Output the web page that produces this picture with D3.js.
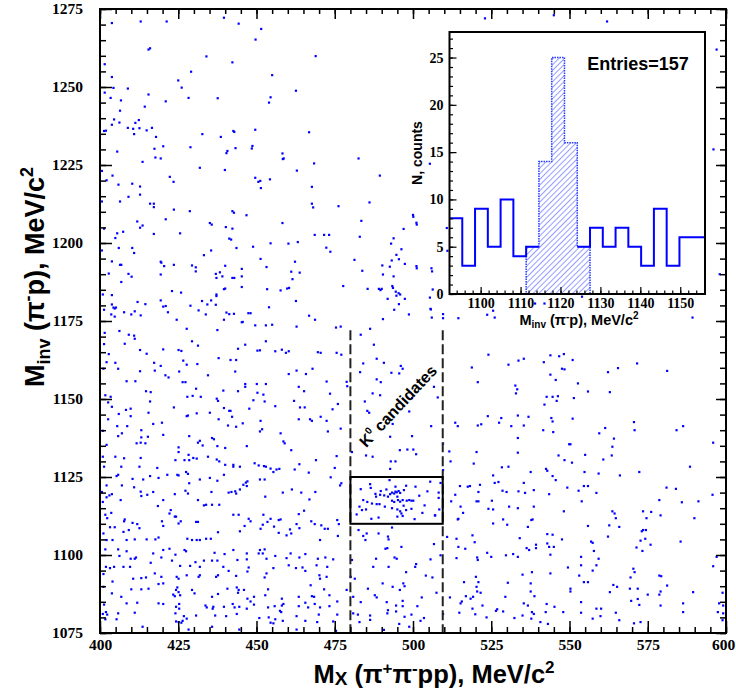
<!DOCTYPE html>
<html><head><meta charset="utf-8">
<script src="https://cdn.jsdelivr.net/npm/d3@7"></script>
<style>body{margin:0;background:#fff}svg{display:block}</style>
</head><body>
<svg id="c" width="736" height="690"></svg>
<script>
// ---------- DATA ----------
// scatter: [Mx (MeV/c^2), Minv (MeV/c^2)]
const ptsUpperLeft = [
[403.8,1270.5],[413.0,1271.0],[421.3,1271.0],[439.6,1272.2],[444.3,1270.3],[451.5,1268.6],[449.7,1265.2],[415.5,1262.0],[416.0,1262.4],
[434.0,1259.8],[468.9,1259.9],[442.3,1257.9],[401.5,1257.3],[429.1,1254.9],[403.8,1253.2],[455.0,1253.8],[425.0,1252.1],[426.1,1249.8],
[404.3,1249.7],[408.9,1249.5],[462.6,1248.8],[401.5,1248.2],[415.5,1247.6],[428.3,1246.5],[437.6,1246.4],[454.5,1246.7],[454.0,1245.0],
[403.4,1246.5],[406.7,1245.7],[421.0,1245.4],[414.3,1243.7],[406.4,1242.4],[404.5,1239.6],[406.2,1238.6],[403.8,1237.9],[412.4,1239.4],
[411.3,1238.5],[408.9,1236.9],[410.6,1236.6],[412.6,1236.8],[416.6,1236.9],[414.9,1236.1],[410.9,1234.9],[401.3,1235.9],[401.9,1236.0],
[417.9,1234.0],[432.7,1234.9],[438.6,1234.0],[442.6,1235.9],[442.9,1235.6],[449.6,1236.3],[466.8,1235.5],[420.2,1231.0],[417.4,1230.2],
[428.9,1230.7],[443.3,1230.4],[440.7,1229.5],[440.4,1228.8],[448.5,1230.3],[448.7,1231.1],[405.5,1229.3],[458.3,1228.7],[458.7,1227.1],
[458.4,1226.9],[417.7,1227.4],[419.4,1227.1],[413.6,1226.0],[468.4,1225.5],[482.6,1227.1],[400.6,1223.1],[404.0,1221.6],[431.9,1224.1],
[439.9,1223.4],[462.9,1223.2],[422.3,1221.2],[423.5,1219.6],[402.1,1220.1],[449.6,1220.9],[450.6,1219.6],[451.2,1219.9],[451.4,1217.6],
[454.3,1220.4],[489.4,1221.6],[410.3,1219.0],[405.9,1218.7],[412.8,1218.1],[412.8,1215.5],[467.7,1218.0],[409.1,1214.8],[400.6,1213.3],
[406.4,1213.3],[416.0,1212.6],[417.2,1212.6],[417.2,1211.5],[467.7,1212.6],[468.1,1211.4],[486.1,1213.0],[476.2,1211.8],[423.6,1210.7],
[428.7,1210.2],[442.3,1210.2],[442.8,1209.7],[446.8,1208.9],[421.0,1207.6],[483.5,1207.1],[500.0,1209.0],[501.1,1206.5],[411.9,1206.9],
[413.6,1205.6],[412.8,1204.9],[435.1,1206.4],[435.7,1205.9],[458.3,1206.4],[440.2,1205.1],[442.3,1204.6],[401.3,1204.6],[405.5,1203.1],
[407.4,1203.6],[404.9,1201.6],[417.2,1202.9],[425.6,1203.1],[468.6,1202.6],[471.6,1202.6],[473.2,1202.6],[483.0,1202.0],[497.0,1204.5],
[493.8,1201.5],[441.3,1201.4],[441.9,1201.1],[454.5,1199.9],[460.2,1199.8],[463.2,1200.3],[493.0,1199.8],[448.9,1198.8],[406.0,1198.4],
[410.3,1198.4],[410.9,1196.8],[443.6,1198.4],[435.5,1197.6],[472.3,1198.5],[473.6,1197.2],[496.3,1198.0],[494.7,1196.2],[400.6,1197.6],
[433.2,1196.1],[451.3,1194.9],[495.5,1194.8],[493.2,1194.4],[403.8,1194.1],[419.4,1194.0],[419.6,1193.7],[462.3,1194.0],[481.3,1194.6],
[420.5,1192.6],[423.6,1193.0],[429.4,1192.8],[430.6,1192.2],[430.6,1190.9],[440.0,1192.7],[453.2,1192.3],[406.4,1193.0],[406.8,1193.0],
[490.2,1192.8],[492.6,1192.4],[497.4,1193.3],[501.1,1192.6],[483.8,1191.1],[461.1,1190.8],[463.8,1190.5],[409.1,1190.1],[410.1,1189.2],
[402.8,1190.2],[419.4,1189.9],[437.0,1190.1],[438.3,1190.6],[437.2,1188.8],[439.1,1189.3],[442.3,1188.8],[442.9,1188.8],[445.3,1189.3],
[445.3,1191.7],[490.4,1189.9],[493.8,1189.3],[461.5,1188.4],[406.8,1187.5],[477.7,1186.2],[493.4,1186.2],[493.6,1185.6],[439.6,1185.2],
[440.0,1185.4],[445.3,1185.9],[453.4,1185.2],[457.7,1184.8],[459.8,1185.4],[460.4,1185.6],[485.5,1185.3],[489.1,1185.3],[489.6,1184.9],
[490.0,1185.3],[423.0,1184.6],[425.9,1184.1],[437.2,1183.5],[437.2,1183.0],[400.9,1183.5],[403.8,1183.3],[494.5,1184.4],[495.4,1183.9],
[495.9,1183.5],[494.7,1183.1],[491.9,1182.1],[497.4,1182.1],[419.4,1181.6],[432.6,1181.4],[435.5,1181.6],[462.6,1181.4],[412.0,1181.1],
[414.5,1180.4],[420.2,1179.6],[421.0,1179.8],[428.9,1179.9],[434.3,1180.3],[437.0,1180.2],[454.0,1179.4],[495.5,1180.4],[403.8,1180.3],
[404.3,1179.3],[404.7,1179.0],[405.1,1179.3],[401.3,1178.6],[494.0,1178.6],[411.1,1178.1],[407.7,1177.8],[421.7,1177.8],[431.5,1178.4],
[440.4,1177.7],[441.3,1177.2],[442.8,1177.3],[447.4,1177.5],[448.1,1177.5],[403.6,1177.1],[404.7,1176.4],[410.0,1177.1],[413.0,1176.8],
[433.8,1177.1],[466.8,1176.7],[498.7,1177.1],[424.5,1175.4],[439.6,1175.4],[445.3,1174.6],[468.7,1175.4],[490.4,1175.6]
];
const ptsLowerLeft = [
[445.6,1174.7],[449.6,1173.6],[453.0,1173.6],[455.0,1173.8],[462.8,1173.2],[475.4,1172.9],[476.9,1173.2],[427.7,1172.5],[437.5,1172.1],
[406.2,1171.8],[401.5,1171.2],[409.2,1170.6],[410.9,1170.3],[411.1,1169.3],[429.4,1168.5],[431.3,1167.1],[407.9,1167.7],[446.4,1167.4],
[453.0,1168.5],[401.3,1167.6],[444.1,1166.1],[420.2,1165.9],[412.8,1165.7],[425.1,1165.7],[426.0,1165.4],[450.3,1165.5],[451.1,1165.6],
[456.0,1165.3],[458.1,1165.8],[459.4,1164.8],[460.3,1165.3],[469.6,1165.0],[470.5,1164.8],[475.6,1164.8],[477.1,1164.2],[414.9,1164.5],
[402.8,1164.4],[437.9,1163.1],[441.7,1162.5],[443.5,1162.5],[426.6,1162.3],[402.1,1161.8],[404.9,1161.6],[417.3,1161.6],[431.1,1161.2],
[427.7,1161.0],[419.4,1160.6],[405.8,1159.7],[401.1,1159.7],[412.8,1158.9],[417.5,1159.1],[425.3,1158.8],[443.2,1158.8],[462.8,1159.1],
[465.8,1158.0],[467.9,1159.7],[460.3,1158.0],[434.5,1157.6],[421.9,1156.9],[420.9,1157.6],[408.5,1155.7],[411.3,1155.7],[426.4,1155.4],
[427.3,1155.4],[446.4,1154.8],[446.4,1153.9],[450.1,1154.8],[453.0,1154.8],[472.4,1155.6],[478.8,1155.5],[479.0,1154.1],[463.5,1153.9],
[444.1,1152.5],[450.3,1152.0],[452.2,1151.4],[465.2,1152.5],[473.5,1151.7],[414.7,1152.5],[416.2,1152.2],[430.7,1153.3],[427.9,1150.7],
[429.6,1151.0],[432.2,1150.7],[437.3,1150.1],[437.7,1149.4],[439.4,1152.7],[449.0,1149.6],[452.6,1149.2],[416.0,1149.2],[401.7,1151.2],
[403.4,1150.7],[403.8,1147.5],[402.6,1148.9],[423.6,1147.3],[439.6,1147.1],[441.3,1146.2],[441.7,1146.2],[447.7,1146.9],[456.0,1147.7],
[462.0,1149.4],[463.9,1147.3],[465.4,1147.3],[474.3,1146.7],[476.0,1148.4],[408.3,1146.5],[409.8,1146.9],[406.0,1145.2],[415.5,1145.6],
[430.9,1145.4],[428.1,1144.7],[427.7,1144.5],[435.1,1145.6],[437.9,1143.5],[442.2,1144.3],[445.6,1142.2],[443.5,1141.1],[440.9,1141.5],
[451.3,1143.0],[463.5,1143.5],[467.1,1143.5],[467.7,1143.0],[472.4,1143.0],[470.5,1144.3],[409.8,1144.5],[402.6,1143.5],[419.8,1142.4],
[417.0,1142.0],[408.7,1141.3],[405.5,1141.3],[400.9,1139.8],[413.2,1140.0],[451.8,1140.3],[451.1,1139.6],[457.7,1139.0],[472.8,1139.6],
[476.9,1140.5],[405.8,1138.1],[407.0,1139.0],[413.2,1137.7],[415.3,1137.9],[420.2,1138.5],[428.5,1138.1],[435.8,1137.5],[436.4,1137.1],
[431.9,1136.6],[431.3,1136.0],[432.8,1135.1],[437.5,1134.9],[440.0,1134.3],[446.9,1134.9],[458.6,1136.4],[459.0,1135.8],[461.1,1133.6],
[411.7,1135.8],[413.0,1136.0],[414.5,1135.8],[402.1,1135.3],[425.1,1134.5],[425.1,1133.0],[428.3,1132.1],[424.1,1130.4],[427.0,1130.4],
[428.5,1130.4],[429.8,1131.1],[430.9,1130.9],[434.5,1131.5],[437.3,1130.6],[438.1,1130.0],[440.0,1128.9],[442.6,1128.9],[442.6,1128.3],
[444.7,1128.3],[400.9,1131.5],[404.9,1131.5],[407.7,1131.0],[413.0,1131.1],[449.4,1129.4],[450.7,1128.7],[452.4,1128.5],[453.0,1128.3],
[454.5,1127.7],[455.4,1126.6],[456.4,1127.4],[457.3,1127.6],[462.2,1127.4],[463.7,1129.1],[466.7,1126.4],[469.0,1130.4],[475.0,1127.9],
[475.6,1131.7],[401.3,1128.3],[406.8,1128.3],[412.6,1128.3],[418.3,1127.9],[421.5,1125.7],[424.7,1125.7],[425.1,1125.5],[427.5,1126.6],
[428.1,1126.0],[405.8,1125.7],[405.3,1125.3],[410.4,1124.4],[413.8,1124.2],[416.0,1125.3],[418.7,1124.7],[431.9,1124.2],[435.1,1124.7],
[437.5,1123.8],[439.6,1125.7],[445.8,1122.5],[446.6,1123.2],[447.1,1123.6],[451.1,1124.2],[452.6,1124.2],[473.7,1124.9],[477.1,1123.0],
[402.1,1122.3],[407.0,1122.3],[410.9,1121.7],[403.8,1119.5],[403.0,1119.1],[402.1,1118.5],[400.6,1120.2],[413.0,1120.3],[413.2,1118.9],
[415.1,1119.3],[417.0,1120.2],[423.9,1119.5],[427.3,1120.6],[428.5,1123.0],[428.1,1119.7],[435.6,1120.2],[441.1,1120.0],[442.0,1120.2],
[443.2,1120.4],[443.5,1119.7],[444.7,1121.0],[446.9,1122.1],[452.8,1118.7],[458.4,1120.0],[461.3,1121.0],[464.3,1120.0],[468.8,1120.2],
[466.9,1117.8],[476.7,1122.3],[406.6,1117.6],[400.9,1117.0],[420.2,1117.6],[431.3,1117.6],[433.9,1116.1],[433.2,1115.9],[435.8,1116.1],
[438.1,1116.1],[418.5,1115.7],[422.2,1113.3],[422.6,1114.4],[423.9,1112.3],[424.3,1112.3],[403.6,1113.5],[402.3,1111.8],[401.7,1112.9],
[407.7,1110.8],[407.9,1111.4],[410.4,1110.3],[411.9,1109.9],[412.6,1108.6],[409.2,1108.0],[407.5,1107.4],[403.2,1108.9],[404.7,1108.9],
[401.1,1106.9],[442.6,1112.9],[444.3,1112.9],[447.5,1111.6],[446.2,1109.3],[452.2,1112.9],[454.5,1111.6],[457.1,1111.2],[457.7,1111.4],
[448.1,1110.8],[453.5,1110.6],[463.5,1113.1],[465.2,1114.2],[467.5,1110.8],[468.6,1109.9],[470.7,1109.5],[471.8,1108.4],[472.8,1108.4],
[475.8,1111.2],[476.3,1109.9],[476.0,1106.1],[470.3,1104.8],[463.7,1108.6],[462.8,1109.9],[460.7,1108.2],[459.6,1106.3],[461.1,1106.9],
[455.6,1109.1],[457.1,1107.1],[452.0,1109.7],[451.3,1108.4],[444.7,1107.6],[437.7,1107.3],[431.3,1110.6],[430.7,1110.6],[419.8,1110.8],
[420.2,1109.3],[425.1,1110.1],[425.8,1110.8],[427.9,1105.2],[429.4,1104.8],[430.9,1104.8],[431.9,1104.8],[433.9,1105.2],[435.4,1105.2],
[418.7,1105.6],[417.7,1105.0],[414.9,1105.0],[411.1,1105.0],[408.5,1104.8],[404.0,1104.8],[402.1,1104.8],[401.7,1101.8],[405.8,1101.8],
[408.5,1101.2],[406.2,1099.7],[411.5,1099.2],[411.1,1098.8],[409.8,1098.8],[404.5,1096.2],[407.5,1096.2],[409.6,1096.2],[403.2,1095.8],
[401.9,1096.2],[401.1,1093.9],[420.2,1101.6],[422.2,1102.0],[427.0,1101.6],[427.5,1101.2],[424.1,1100.1],[419.6,1099.2],[417.0,1100.5],
[416.2,1097.5],[425.6,1096.5],[423.0,1098.2],[430.5,1097.7],[428.8,1096.5],[431.9,1096.2],[433.2,1098.2],[435.8,1098.2],[436.6,1100.7],
[439.8,1100.3],[442.6,1101.6],[446.9,1100.5],[446.9,1098.6],[443.9,1098.4],[437.5,1098.2],[439.4,1096.2],[451.1,1101.6],[452.6,1101.8],
[450.7,1100.5],[452.0,1100.5],[453.2,1098.8],[456.0,1099.7],[459.6,1099.0],[460.9,1100.5],[463.7,1099.2],[465.6,1100.3],[469.6,1098.8],
[472.0,1099.2],[474.5,1098.6],[460.3,1096.7],[455.4,1095.8],[462.6,1095.8],[464.7,1096.0],[465.6,1094.9],[469.2,1096.7],[472.4,1093.0],
[470.1,1093.5],[470.3,1092.4],[472.6,1096.2],[447.5,1096.0],[447.1,1094.7],[452.6,1092.8],[453.2,1094.1],[443.5,1093.3],[441.1,1094.9],
[437.7,1093.5],[437.1,1093.0],[431.5,1093.0],[431.9,1093.5],[427.7,1093.5],[424.5,1093.0],[425.1,1092.4],[417.5,1094.1],[419.6,1093.0],
[420.2,1090.9],[418.7,1090.7],[413.2,1092.6],[414.7,1092.8],[410.6,1092.4],[404.0,1091.5],[401.1,1089.8],[410.0,1089.0],[413.2,1089.0],
[415.5,1089.2],[406.8,1086.6],[403.8,1087.7],[424.7,1089.6],[424.3,1088.8],[425.1,1088.1],[423.4,1087.3],[425.6,1087.1],[423.9,1086.8],
[430.2,1087.7],[429.4,1088.8],[440.7,1089.2],[443.7,1089.6],[444.3,1088.8],[444.1,1087.9],[446.0,1088.8],[437.7,1087.5],[435.8,1086.6],
[447.1,1086.0],[448.1,1085.1],[449.2,1086.6],[452.8,1087.1],[453.7,1089.0],[458.1,1086.0],[458.6,1084.3],[463.5,1086.6],[467.3,1090.3],
[467.7,1086.8],[468.4,1086.6],[471.6,1089.0],[473.3,1087.1],[475.8,1085.1],[478.8,1088.8],[401.3,1084.1],[408.5,1084.5],[411.9,1084.7],
[418.7,1084.5],[420.2,1084.3],[424.3,1083.4],[425.3,1084.3],[425.3,1082.8],[433.7,1083.8],[434.1,1083.2],[436.2,1083.4],[436.0,1082.8],
[439.6,1083.4],[442.4,1084.3],[443.0,1083.2],[444.5,1083.4],[446.9,1082.8],[449.2,1084.1],[453.7,1083.2],[455.8,1083.6],[458.1,1083.8],
[457.5,1082.1],[457.9,1081.7],[463.5,1083.6],[465.6,1084.7],[466.5,1083.2],[468.6,1084.3],[470.3,1083.2],[473.3,1083.6],[411.1,1081.5],
[401.9,1081.7],[400.9,1081.1],[402.3,1080.9],[405.8,1081.3],[424.1,1081.3],[426.8,1080.4],[427.7,1079.6],[430.7,1080.6],[436.8,1080.6],
[440.3,1080.4],[443.7,1081.1],[450.9,1079.8],[453.9,1080.0],[456.0,1079.4],[458.4,1078.9],[462.8,1080.4],[465.6,1078.9],[469.9,1080.9],
[475.8,1080.9],[401.7,1079.4],[405.3,1079.4],[424.3,1078.7],[425.1,1078.5],[426.0,1078.3],[426.4,1078.9],[454.5,1078.3],[455.4,1078.1],
[469.4,1078.5],[474.5,1078.7],[413.6,1077.0],[428.3,1076.1],[435.8,1077.0],[444.5,1076.1],[462.8,1076.1],[475.4,1075.7]
];
const ptsColumn = [
[483.3,1170.6],[486.3,1172.5],[487.5,1167.4],[488.4,1162.9],[490.7,1161.6],[484.1,1161.4],[496.1,1160.6],[496.7,1159.7],[493.1,1158.4],
[483.1,1158.6],[488.4,1156.3],[489.7,1155.4],[495.6,1158.2],[487.1,1151.8],[489.5,1151.2],[484.6,1149.2],[485.4,1146.2],[486.0,1145.6],
[499.7,1150.3],[498.8,1146.0],[492.4,1143.5],[493.5,1142.0],[499.7,1138.1],[492.7,1137.9],[480.5,1133.0],[485.0,1131.9],[487.1,1131.5],
[495.8,1133.6],[498.2,1133.8],[500.1,1133.8],[501.0,1132.3],[492.9,1130.0],[494.4,1130.0],[492.7,1127.6],
[483.3,1121.1],[486.3,1122.7],[488.0,1119.6],[489.7,1120.5],[489.5,1119.3],[490.8,1119.1],[492.0,1118.7],[493.3,1120.0],[494.0,1119.7],
[494.4,1121.9],[494.4,1120.3],[494.8,1120.1],[495.4,1120.5],[495.9,1119.9],[495.0,1118.7],[497.1,1120.8],[497.8,1122.2],[493.3,1117.4],
[494.0,1117.0],[495.2,1117.6],[495.9,1117.1],[496.7,1117.6],[498.0,1117.4],[498.8,1117.6],[499.5,1117.4],[500.1,1117.4],[500.8,1121.9],
[484.1,1117.6],[485.4,1117.0],[486.9,1116.5],[488.4,1116.3],[489.3,1116.3],[482.9,1115.5],[483.7,1114.4],[485.0,1114.6],[491.0,1115.5],
[493.3,1115.0],[495.0,1114.6],[495.9,1114.0],[496.3,1113.3],[497.8,1114.4],[499.5,1114.8],[495.0,1112.3],[496.7,1112.5],[486.7,1111.6],
[503.7,1115.9],[504.6,1120.4],[507.0,1112.7],[508.2,1120.0],[508.2,1118.3],[508.4,1114.6],[492.7,1119.5],[488.2,1118.7],
[486.5,1121.5],[491.5,1121.0],[497.0,1115.8],[502.0,1119.0],[505.5,1123.5],[482.0,1113.0],[489.0,1112.0],[500.5,1111.5],[503.0,1113.5],[492.5,1124.0],
[482.6,1108.0],[484.1,1106.1],[485.2,1106.9],[484.8,1104.8],[489.0,1106.9],[492.0,1105.9],[492.2,1105.0],[493.3,1108.8],[496.3,1102.6],
[491.2,1102.0],[491.8,1102.2],[494.1,1099.2],[494.8,1098.8],[488.2,1098.8],[480.5,1098.4],[487.3,1096.2],[492.2,1096.2],[501.0,1097.1],
[497.8,1094.5],[500.7,1096.2],[480.1,1093.0],[481.4,1092.4],[490.3,1090.9],[496.9,1090.9],[497.3,1090.0],[493.5,1089.8],[495.8,1088.8],
[485.6,1089.2],[487.8,1087.1],[488.4,1086.4],[480.9,1086.6],[483.3,1084.9],[491.6,1084.9],[496.7,1085.3],[494.6,1083.8],[496.7,1083.6],
[501.4,1083.6],[492.0,1082.3],[494.6,1081.9],[480.9,1081.3],[482.4,1080.9],[486.3,1080.6],[491.8,1081.3],[497.3,1080.2],[499.5,1080.9],
[486.3,1079.2],[490.7,1076.0],[495.6,1077.9],[498.8,1077.0],[482.9,1078.5],
[506.7,1153.9],[507.9,1150.5],[505.8,1141.3],[509.6,1135.7],[508.8,1123.1],[509.6,1127.2],[507.1,1112.7],[506.7,1103.5],[508.8,1099.9],
[505.6,1098.6],[504.1,1093.4],[506.2,1092.8],[507.5,1087.9],[502.8,1086.4],[509.6,1081.1],[503.5,1079.8],[502.4,1078.9],
[505.6,1178.9],[506.0,1176.1],[509.6,1177.2],[509.6,1175.9],
[505.4,1225.4],[500.1,1208.4],[501.2,1205.9],[510.8,1204.8],[511.0,1197.5],[501.2,1191.9],[505.9,1191.9],[506.1,1190.9],[506.3,1185.1],
[505.4,1182.5],[505.7,1178.7]
];
const ptsRight = [
[514.5,1175.9],[523.7,1177.0],[525.6,1178.3],[526.1,1176.1],[589.3,1176.1],[539.0,1180.6],[542.0,1180.6],[554.0,1182.8],
[524.1,1164.2],[518.8,1160.1],[520.7,1155.4],[530.5,1161.0],[533.7,1162.3],[535.4,1162.9],[541.8,1161.8],[543.9,1164.0],[546.7,1163.7],
[548.2,1164.4],[551.0,1162.5],[547.6,1159.7],[548.4,1159.5],[543.9,1157.8],[545.6,1156.1],[552.7,1155.0],[532.7,1154.3],[533.3,1153.1],
[532.9,1151.8],[555.9,1152.4],[562.3,1158.6],[565.5,1159.9],[571.6,1161.4],[581.2,1159.0],[562.9,1152.2],[542.7,1150.7],[544.6,1150.7],
[546.3,1150.9],[545.9,1149.4],[542.0,1148.2],[551.4,1150.3],[536.9,1144.3],[533.5,1144.7],[523.9,1144.5],[520.7,1141.5],[521.8,1141.9],
[527.5,1142.4],[528.2,1143.9],[531.4,1141.3],[535.4,1141.5],[513.5,1142.4],[514.3,1141.3],[544.2,1143.9],[544.6,1142.8],[544.8,1139.4],
[541.6,1140.0],[551.0,1143.7],[561.4,1140.7],[559.5,1139.0],[564.2,1137.3],[563.7,1134.7],[563.5,1131.9],[560.8,1130.6],[570.6,1142.6],
[570.8,1140.0],[584.2,1140.0],[586.3,1141.3],[533.5,1137.5],[533.5,1132.8],[520.3,1133.0],[511.6,1133.2],[512.0,1130.0],[519.4,1129.3],[528.4,1128.1],
[530.5,1128.3],[525.6,1125.5],[546.5,1131.9],[548.4,1130.4],[549.9,1135.5],[550.3,1135.5],[550.8,1129.6],[555.0,1132.1],[542.5,1127.6],
[542.9,1127.0],[537.6,1126.6],[544.6,1125.3],[545.6,1124.0],[554.8,1126.6],[559.3,1126.1],[566.1,1125.5],[572.3,1126.6],[588.5,1128.3],
[595.9,1136.0],[518.2,1122.1],[517.5,1121.9],[515.0,1122.1],[513.5,1119.3],[512.2,1117.2],[515.2,1115.5],[514.5,1111.6],[521.4,1122.5],
[520.9,1120.2],[526.1,1123.1],[527.3,1123.4],[528.6,1120.6],[529.9,1120.2],[533.7,1120.4],[535.4,1123.1],[535.8,1119.9],[538.6,1120.8],
[543.5,1119.5],[549.3,1121.6],[552.9,1120.6],[554.6,1122.1],[555.9,1122.1],[558.6,1119.9],[553.9,1117.2],[548.2,1114.0],[538.6,1115.5],
[537.8,1111.2],[538.2,1111.4],[536.7,1109.0],[530.7,1115.5],[533.5,1115.0],[528.8,1111.4],[530.1,1109.7],[524.1,1114.8],[525.6,1114.6],
[520.9,1117.2],[520.3,1117.2],[525.2,1117.4],[516.0,1113.5],[514.3,1111.4],[525.6,1110.1],[555.9,1109.3],[562.7,1109.5],
[563.7,1114.0],[564.4,1113.3],[564.8,1111.8],[565.9,1109.0],[573.5,1114.0],[576.1,1113.8],[574.6,1111.8],[578.7,1117.6],[581.0,1121.6],
[584.0,1121.2],[585.9,1116.9],[591.2,1117.2],[589.9,1111.8],[595.7,1119.3],[573.5,1108.0],[574.4,1108.0],[573.1,1107.6],[510.9,1105.8],
[513.9,1105.2],[519.0,1106.3],[519.7,1104.1],[514.5,1102.6],[516.7,1102.0],[520.5,1099.2],[520.7,1098.4],[523.7,1100.7],[525.0,1099.4],
[529.7,1099.9],[532.0,1100.3],[533.5,1099.4],[536.3,1102.2],[537.1,1101.6],[539.3,1102.2],[539.3,1103.3],[542.9,1106.7],[544.6,1106.5],
[542.9,1103.7],[543.5,1102.6],[545.0,1102.6],[547.6,1105.0],[534.1,1105.4],[543.9,1100.1],[553.7,1099.4],[557.4,1103.9],[557.8,1101.3],
[559.3,1098.8],[558.6,1096.7],[557.4,1095.0],[553.7,1096.7],[549.5,1096.0],[543.9,1094.1],[538.0,1094.5],[537.6,1090.9],[535.0,1093.7],
[530.3,1091.1],[529.5,1086.6],[520.1,1093.0],[520.9,1091.3],[520.3,1089.8],[520.5,1088.3],[521.6,1087.9],[516.3,1091.3],[513.9,1099.0],
[519.2,1086.6],[518.4,1086.0],[516.9,1086.8],[515.6,1085.1],[515.2,1084.5],[511.8,1086.4],[519.0,1082.8],[522.2,1083.8],[526.9,1082.6],
[528.8,1081.9],[514.8,1081.5],[519.9,1081.0],[523.5,1080.0],[526.5,1082.1],[532.4,1079.8],[535.4,1084.5],[536.7,1083.8],[537.6,1088.3],
[538.8,1086.8],[538.0,1081.7],[538.6,1081.1],[535.0,1080.6],[537.8,1079.6],[540.7,1078.5],[542.7,1084.3],[545.2,1083.4],[542.4,1081.7],
[543.1,1077.9],[548.0,1081.7],[550.3,1089.2],[550.3,1088.3],[553.1,1093.4],[554.6,1091.3],[555.9,1091.3],[553.7,1084.9],[553.7,1081.5],
[557.4,1079.6],[558.6,1082.8],[560.1,1082.8],[559.9,1080.4],[564.8,1081.5],[565.9,1079.1],[562.9,1088.1],[564.0,1090.4],[565.2,1089.8],
[569.3,1089.2],[569.7,1085.3],[571.8,1089.2],[571.8,1085.9],[572.3,1084.0],[575.0,1087.3],[570.4,1095.6],[570.8,1094.5],[572.7,1078.5],
[570.6,1078.1],[578.7,1093.4],[579.3,1093.2],[581.2,1090.2],[579.1,1088.3],[578.7,1087.3],[579.1,1083.8],[589.5,1088.1],[585.5,1104.3],
[579.1,1112.7],[595.9,1096.4],[573.3,1101.3],[574.2,1105.2],[575.9,1103.3],[571.4,1102.4],[572.7,1104.6],[562.3,1105.9],[556.9,1104.3],
[586.3,1084.5],[586.3,1081.7],[598.9,1087.9],[597.8,1084.5],[599.1,1083.8],[599.1,1081.3],[597.4,1081.7],[598.9,1079.1],[569.5,1092.8],
[597.0,1099.4],[523.0,1272.0],[545.0,1273.0],[562.0,1271.0],[597.0,1262.0],[596.0,1230.0],[598.0,1190.0]
];

// axes
const xMajor = [400,425,450,475,500,525,550,575,600];
const yMajor = [1075,1100,1125,1150,1175,1200,1225,1250,1275];

// inset histogram: M_inv of K0 candidates, 3.2 MeV bins from 1092.2
const histStart = 1092.2, histBinWidth = 3.2;
const histCounts = [8,3,9,5,10,4,5,14,25,16,5,7,5,7,5,3,9,3,6,6];
const hatchedBins = [6,7,8,9,10];
const histEntries = 157;
const insetXTicks = [1100,1110,1120,1130,1140,1150];
const insetYTicks = [0,5,10,15,20,25];

// cuts
const kCut = {xMin:480, xMax:509.5, yTop:1172, boxY0:1110, boxY1:1125};

// ---------- DRAW ----------
const svg = d3.select("#c");
const SANS = "'Liberation Sans', Arial, sans-serif";
const SERIF = "'Liberation Serif', 'Times New Roman', serif";
const L=100,R=726,T=9,B=633;
const x = d3.scaleLinear().domain([400,600]).range([L,R]);
const y = d3.scaleLinear().domain([1075,1275]).range([B,T]);

svg.append("rect").attr("width",736).attr("height",690).attr("fill","#fff");

const allPts = ptsUpperLeft.concat(ptsLowerLeft, ptsColumn, ptsRight);
svg.append("g").selectAll("rect").data(allPts).join("rect")
  .attr("x",d=>x(d[0])-1.1).attr("y",d=>y(d[1])-1.1)
  .attr("width",2.2).attr("height",2.2).attr("fill","#0000ff");

// cut lines
const cutG = svg.append("g");
[kCut.xMin,kCut.xMax].forEach(v=>{
  cutG.append("line").attr("x1",x(v)).attr("x2",x(v)).attr("y1",y(kCut.yTop)).attr("y2",B)
    .attr("stroke","#222").attr("stroke-width",2).attr("stroke-dasharray","10,4");
});
cutG.append("rect").attr("x",x(kCut.xMin)).attr("y",y(kCut.boxY1))
  .attr("width",x(kCut.xMax)-x(kCut.xMin)).attr("height",y(kCut.boxY0)-y(kCut.boxY1))
  .attr("fill","none").attr("stroke","#000").attr("stroke-width",2);
const kt = cutG.append("text")
  .attr("transform",`translate(398,406) rotate(-47)`)
  .attr("text-anchor","middle").attr("dy","0.35em")
  .style("font-family",SANS).style("font-weight","bold").style("font-size","16px").attr("fill","#000");
kt.append("tspan").text("K");
kt.append("tspan").style("font-size","10px").attr("dy",-7).text("0");
kt.append("tspan").attr("dy",7).text(" candidates");

// axes (ticks inside)
function styleAxis(g){
  g.select(".domain").remove();
  g.selectAll(".tick line").attr("stroke","#000").attr("stroke-width",1.5);
  g.selectAll("text").style("font-family",SERIF).style("font-weight","bold").style("font-size","15.5px").attr("fill","#000");
}
const xMinor = d3.range(400,601,5), yMinor = d3.range(1075,1276,5);
svg.append("g").attr("transform",`translate(0,${B})`).call(d3.axisBottom(x).tickValues(xMinor).tickFormat("").tickSize(-6)).call(styleAxis);
const xAxG = svg.append("g").attr("transform",`translate(0,${B})`).call(d3.axisBottom(x).tickValues(xMajor).tickFormat(d3.format("d")).tickSize(-12).tickPadding(6)).call(styleAxis);
xAxG.selectAll(".tick text").filter(d=>d===600).attr("dx",-3);
svg.append("g").attr("transform",`translate(0,${T})`).call(d3.axisTop(x).tickValues(xMinor).tickFormat("").tickSize(-5)).call(styleAxis);
svg.append("g").attr("transform",`translate(0,${T})`).call(d3.axisTop(x).tickValues(xMajor).tickFormat("").tickSize(-10)).call(styleAxis);
svg.append("g").attr("transform",`translate(${L},0)`).call(d3.axisLeft(y).tickValues(yMinor).tickFormat("").tickSize(-6)).call(styleAxis);
svg.append("g").attr("transform",`translate(${L},0)`).call(d3.axisLeft(y).tickValues(yMajor).tickFormat(d3.format("d")).tickSize(-12).tickPadding(17)).call(styleAxis);
svg.append("g").attr("transform",`translate(${R},0)`).call(d3.axisRight(y).tickValues(yMinor).tickFormat("").tickSize(-6)).call(styleAxis);
svg.append("g").attr("transform",`translate(${R},0)`).call(d3.axisRight(y).tickValues(yMajor).tickFormat("").tickSize(-10)).call(styleAxis);
svg.append("rect").attr("x",L).attr("y",T).attr("width",R-L).attr("height",B-T)
  .attr("fill","none").attr("stroke","#000").attr("stroke-width",2);

// axis titles
const xt = svg.append("text").attr("x",434).attr("y",683).attr("text-anchor","middle")
  .style("font-family",SANS).style("font-weight","bold").style("font-size","25.5px").attr("fill","#000");
xt.append("tspan").text("M");
xt.append("tspan").style("font-size","19px").attr("dy",2).text("X");
xt.append("tspan").attr("dy",-2).text(" (π");
xt.append("tspan").style("font-size","17px").attr("dy",-9).text("+");
xt.append("tspan").attr("dy",9).text("π");
xt.append("tspan").style("font-size","17px").attr("dy",-9).text("-");
xt.append("tspan").attr("dy",9).text("pp), MeV/c");
xt.append("tspan").style("font-size","17px").attr("dy",-10).text("2");

const yt = svg.append("text").attr("transform","translate(44,277) rotate(-90)").attr("text-anchor","middle")
  .style("font-family",SANS).style("font-weight","bold").style("font-size","27px").attr("fill","#000");
yt.append("tspan").text("M");
yt.append("tspan").style("font-size","18px").attr("dy",6).text("inv");
yt.append("tspan").attr("dy",-6).text(" (π");
yt.append("tspan").style("font-size","18px").attr("dy",-10).text("-");
yt.append("tspan").attr("dy",10).text("p), MeV/c");
yt.append("tspan").style("font-size","18px").attr("dy",-11).text("2");

// ---------- INSET ----------
const iL=449.5, iR=705, iT=32, iB=294;
const histEnd = histStart + histBinWidth*histCounts.length;
const ix = d3.scaleLinear().domain([histStart,histEnd]).range([iL,iR]);
const iy = d3.scaleLinear().domain([0,27.7]).range([iB,iT]);
const ins = svg.append("g");
ins.append("rect").attr("x",iL).attr("y",iT).attr("width",iR-iL).attr("height",iB-iT).attr("fill","#fff");

const defs = svg.append("defs");
const pat = defs.append("pattern").attr("id","hatch").attr("patternUnits","userSpaceOnUse")
  .attr("width",4).attr("height",4).attr("patternTransform","rotate(45)");
pat.append("line").attr("x1",0).attr("y1",0).attr("x2",0).attr("y2",4).attr("stroke","#3a4dff").attr("stroke-width",1.1);

const bins = histCounts.map((c,i)=>({x0:histStart+i*histBinWidth, c}));
const hb = hatchedBins.map(i=>bins[i]);
const hbPts = hb.map(b=>[b.x0,b.c]).concat([[hb[hb.length-1].x0+histBinWidth, hb[hb.length-1].c]]);
const area = d3.area().curve(d3.curveStepAfter).x(d=>ix(d[0])).y0(iy(0)).y1(d=>iy(d[1]));
ins.append("path").attr("d",area(hbPts)).attr("fill","url(#hatch)")
  .attr("stroke","#2a3cff").attr("stroke-width",1.5).attr("stroke-dasharray","1.5,1");

const line = d3.line().curve(d3.curveStepAfter).x(d=>ix(d[0])).y(d=>iy(d[1]));
function seg(i0,i1){ // bins i0..i1 inclusive
  const p = bins.slice(i0,i1+1).map(b=>[b.x0,b.c]);
  p.push([bins[i1].x0+histBinWidth,bins[i1].c]);
  return p;
}
ins.append("path").attr("d",line(seg(0,6))).attr("fill","none").attr("stroke","#0000ff").attr("stroke-width",2);
ins.append("path").attr("d",line(seg(10,histCounts.length-1))).attr("fill","none").attr("stroke","#0000ff").attr("stroke-width",2);

function styleIns(g){
  g.select(".domain").remove();
  g.selectAll(".tick line").attr("stroke","#000").attr("stroke-width",1.2);
  g.selectAll("text").style("font-family",SERIF).style("font-weight","bold").style("font-size","14px").attr("fill","#000");
}
ins.append("g").attr("transform",`translate(${iL},0)`).call(d3.axisLeft(iy).tickValues(d3.range(0,28,1)).tickFormat("").tickSize(-3.5)).call(styleIns);
ins.append("g").attr("transform",`translate(${iL},0)`).call(d3.axisLeft(iy).tickValues(insetYTicks).tickFormat(d3.format("d")).tickSize(-7).tickPadding(6)).call(styleIns);
ins.append("g").attr("transform",`translate(0,${iB})`).call(d3.axisBottom(ix).tickValues(d3.range(1094,1157,2)).tickFormat("").tickSize(-3.5)).call(styleIns);
ins.append("g").attr("transform",`translate(0,${iB})`).call(d3.axisBottom(ix).tickValues(insetXTicks).tickFormat(d3.format("d")).tickSize(-7).tickPadding(4)).call(styleIns);
ins.append("rect").attr("x",iL).attr("y",iT).attr("width",iR-iL).attr("height",iB-iT)
  .attr("fill","none").attr("stroke","#000").attr("stroke-width",2);

ins.append("text").attr("x",638).attr("y",70).attr("text-anchor","middle")
  .style("font-family",SANS).style("font-weight","bold").style("font-size","18px").attr("fill","#000")
  .text("Entries=" + histEntries);

const ixt = ins.append("text").attr("x",579).attr("y",325).attr("text-anchor","middle")
  .style("font-family",SANS).style("font-weight","bold").style("font-size","14.5px").attr("fill","#000");
ixt.append("tspan").text("M");
ixt.append("tspan").style("font-size","10px").attr("dy",3).text("inv");
ixt.append("tspan").attr("dy",-3).text(" (π");
ixt.append("tspan").style("font-size","10px").attr("dy",-5).text("-");
ixt.append("tspan").attr("dy",5).text("p), MeV/c");
ixt.append("tspan").style("font-size","10px").attr("dy",-6).text("2");

ins.append("text").attr("transform","translate(422,153) rotate(-90)").attr("text-anchor","middle")
  .style("font-family",SANS).style("font-weight","bold").style("font-size","14px").attr("fill","#000")
  .text("N, counts");
</script>
</body></html>
